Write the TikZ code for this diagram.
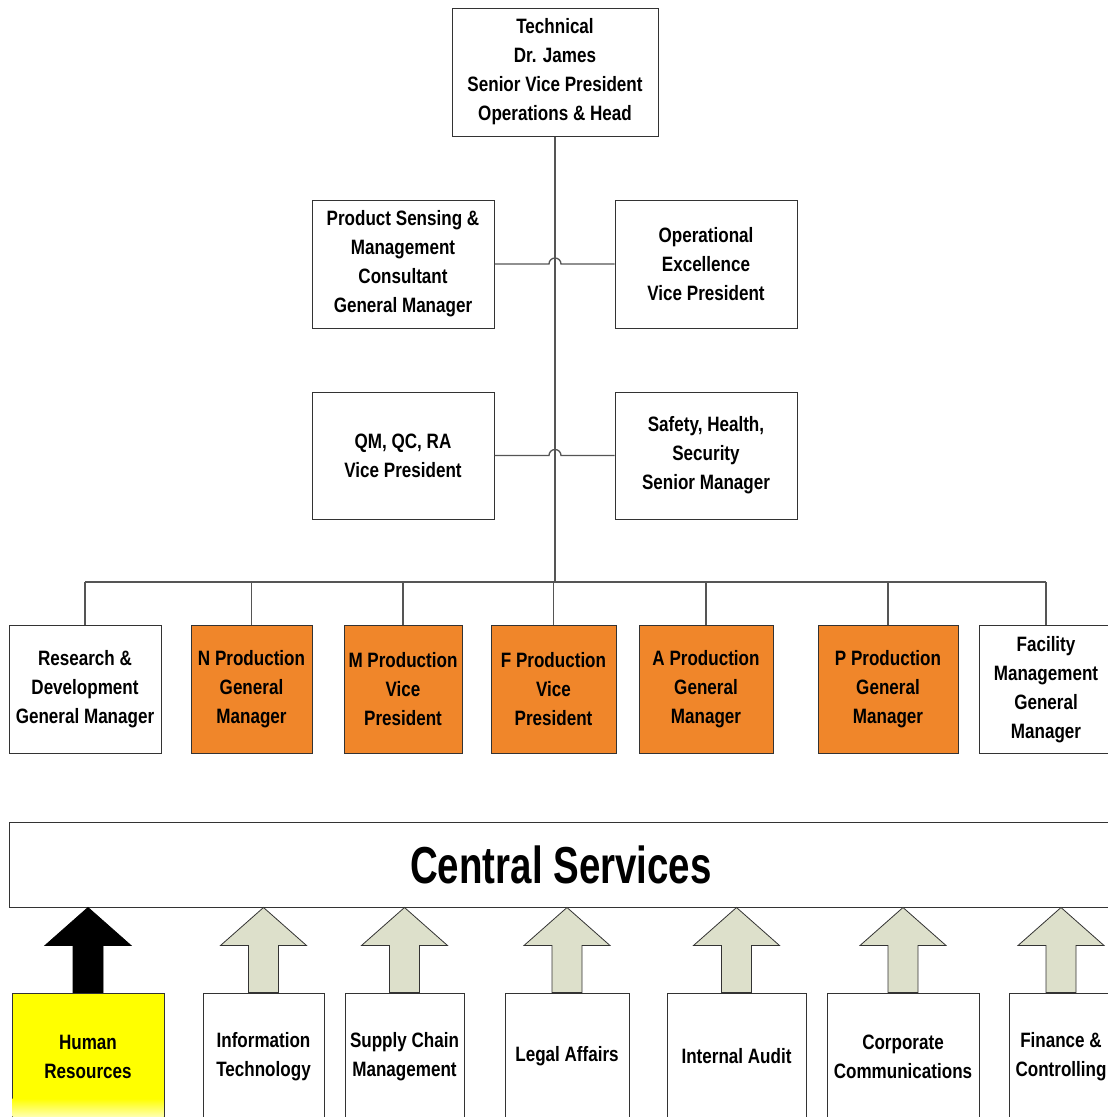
\documentclass[tikz,border=0pt]{standalone}
\usepackage{fontspec}
\setmainfont{Liberation Sans}[FakeStretch=0.82]
\newfontfamily\titlefont{Liberation Sans}[FakeStretch=0.74]
\usepackage{xcolor}
\usepackage{tikz}
\usetikzlibrary{calc}
\definecolor{cLaranja}{HTML}{F0862A}
\definecolor{cAmarelo}{HTML}{FFFF00}
\definecolor{cSeta}{HTML}{DDE0CB}
\definecolor{cBorda}{HTML}{333333}
\definecolor{cLinha}{HTML}{555555}

\begin{document}
\begin{tikzpicture}[
  x=1pt,y=1pt,
  box/.style={draw=cBorda,fill=white,line width=1pt,align=center,inner sep=2pt,
              minimum height=128pt,font=\bfseries\fontsize{20.8}{29}\selectfont},
  prod/.style={box,fill=cLaranja},
  svc/.style={box,minimum height=127pt},
  ln/.style={draw=cLinha,line width=1.3pt},
  seta/.style={draw=cBorda,line width=0.8pt,fill=cSeta},
  setahr/.style={draw=black,line width=0.8pt,fill=black}
]
\clip (0,0) rectangle (1108,-1117);

% ---- direcao
\node[box,minimum width=206pt] (tech) at (555,-72)
  {Technical\\ Dr. James\\ Senior Vice President\\ Operations \& Head};

\node[box,minimum width=182pt] (ps) at (403,-264)
  {Product Sensing \&\\ Management\\ Consultant\\ General Manager};
\node[box,minimum width=182pt] (oe) at (706,-264)
  {Operational\\ Excellence\\ Vice President};

\node[box,minimum width=182pt,minimum height=127pt] (qm) at (403,-455.5)
  {QM, QC, RA\\ Vice President};
\node[box,minimum width=182pt,minimum height=127pt] (shs) at (706,-455.5)
  {Safety, Health,\\ Security\\ Senior Manager};

% ---- linha de producao
\node[box,minimum width=152pt]  (rd) at (85,-689.5)    {Research \&\\ Development\\ General Manager};
\node[prod,minimum width=121pt] (n)  at (251.5,-689.5) {N Production\\ General\\ Manager};
\node[prod,minimum width=118pt] (m)  at (403,-689.5)   {M Production\\ Vice\\ President};
\node[prod,minimum width=125pt] (f)  at (553.5,-689.5) {F Production\\ Vice\\ President};
\node[prod,minimum width=134pt] (a)  at (706,-689.5)   {A Production\\ General\\ Manager};
\node[prod,minimum width=140pt] (p)  at (888,-689.5)   {P Production\\ General\\ Manager};
\node[box,minimum width=134pt]  (fm) at (1046,-689.5)  {Facility\\ Management\\ General\\ Manager};

% ---- conexoes
\coordinate (bus) at (555,-582);
\draw[ln] (tech.south) -- (bus);
\draw[ln] (ps.east) -- ($(tech.south |- ps.east)+(-6,0)$) arc[start angle=180,end angle=0,radius=6] -- (oe.west);
\draw[ln] (qm.east) -- ($(tech.south |- qm.east)+(-6,0)$) arc[start angle=180,end angle=0,radius=6] -- (shs.west);
\draw[ln] (rd.north |- bus) -- (fm.north |- bus);
\foreach \b in {rd,n,m,f,a,p,fm}
  \draw[ln] (\b.north) -- (\b.north |- bus);

% ---- servicos centrais
\node[box,minimum width=1104pt,minimum height=85pt,font=\titlefont\bfseries\fontsize{52}{56}\selectfont]
  (cs) at (561,-864.5) {Central Services};

\node[svc,fill=cAmarelo,minimum width=152pt] (hr) at (88,-1056.5) {Human\\ Resources};
\shade[top color=cAmarelo,bottom color=cAmarelo!20]
  ($(hr.south west)+(1,1)$) rectangle ($(hr.south east)+(-1,22)$);
\node[svc,minimum width=121pt] (it)  at (263.5,-1056.5) {Information\\ Technology};
\node[svc,minimum width=119pt] (scm) at (404.5,-1056.5) {Supply Chain\\ Management};
\node[svc,minimum width=124pt] (la)  at (567,-1056.5)   {Legal Affairs};
\node[svc,minimum width=139pt] (ia)  at (736.5,-1056.5) {Internal Audit};
\node[svc,minimum width=152pt] (cc)  at (903,-1056.5)   {Corporate\\ Communications};
\node[svc,minimum width=104pt] (fc)  at (1061,-1056.5)  {Finance \&\\ Controlling};

% ---- setas
\filldraw[setahr] ($(hr.north)+(-15,0)$) -- ++(0,47) -- ++(-28,0) -- (hr.north |- cs.south)
  -- ++(43,-38) -- ++(-28,0) -- ++(0,-47) -- cycle;
\foreach \b in {it,scm,la,ia,cc,fc}
  \filldraw[seta] ($(\b.north)+(-15,0)$) -- ++(0,47) -- ++(-28,0) -- (\b.north |- cs.south)
    -- ++(43,-38) -- ++(-28,0) -- ++(0,-47) -- cycle;
\end{tikzpicture}
\end{document}
